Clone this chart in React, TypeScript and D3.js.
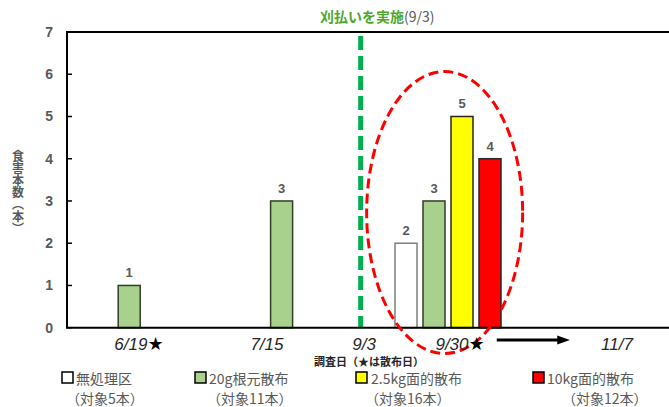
import React from "react";
import * as d3 from "d3";

const categories = ["6/19", "7/15", "9/30", "11/7"];
const seriesNames = ["無処理区", "20g根元散布", "2.5kg面的散布", "10kg面的散布"];
const seriesTargets = ["（対象5本）", "（対象11本）", "（対象16本）", "（対象12本）"];
const untreated: (number | null)[] = [null, null, 2, null];
const root20g: (number | null)[] = [1, 3, 3, null];
const area25kg: (number | null)[] = [null, null, 5, null];
const area10kg: (number | null)[] = [null, null, 4, null];
const seriesValues = [untreated, root20g, area25kg, area10kg];
const yTicks = [0, 1, 2, 3, 4, 5, 6, 7];
// x-axis labels placed along the category axis (in category units)
const xLabels = [
  { text: "6/19", star: true, at: 0.472 },
  { text: "7/15", star: false, at: 1.312 },
  { text: "9/3", star: false, at: 1.949 },
  { text: "9/30", star: true, at: 2.579 },
  { text: "11/7", star: false, at: 3.609 },
];
const mowingAt = 1.927;

const W = 669;
const H = 407;
const left = 67;
const top = 32;
const bottom = 327.7;
const right = 676.6;

const fills = ["#ffffff", "#a9d18e", "#ffff00", "#ff0000"];
const strokes = ["#7f7f7f", "#2f3f26", "#262626", "#262626"];
const gray = "#595959";
const jp = "'Noto Sans CJK JP', 'Noto Sans', sans-serif";
const lat = "'Liberation Sans', Arial, sans-serif";

export default function App() {
  const x0 = d3.scaleBand<string>().domain(categories).range([left, right]);
  const xu = d3.scaleLinear().domain([0, categories.length]).range([left, right]);
  const clusterW = 112;
  const x1 = d3
    .scaleBand<string>()
    .domain(seriesNames)
    .range([0, clusterW])
    .paddingInner(6 / 28)
    .paddingOuter(3 / 28);
  const y = d3.scaleLinear().domain([0, 7]).range([bottom, top]);

  const bars: React.ReactNode[] = [];
  categories.forEach((c, ci) => {
    const cx = (x0(c) as number) + x0.bandwidth() / 2 - clusterW / 2;
    seriesNames.forEach((s, si) => {
      const v = seriesValues[si][ci];
      if (v == null) return;
      const bx = cx + (x1(s) as number);
      bars.push(
        <g key={c + s}>
          <rect
            x={bx}
            y={y(v)}
            width={x1.bandwidth()}
            height={y(0) - y(v)}
            fill={fills[si]}
            stroke={strokes[si]}
            strokeWidth={1.5}
          />
          <text
            x={bx + x1.bandwidth() / 2}
            y={y(v) - 8}
            textAnchor="middle"
            fontFamily={lat}
            fontWeight="bold"
            fontSize={13}
            fill={gray}
          >
            {v}
          </text>
        </g>
      );
    });
  });

  const ellCx = xu(2.478);
  const legendX = [
    { box: 62, t1: 76, t2: 66 },
    { box: 195, t1: 209, t2: 207 },
    { box: 356, t1: 371, t2: 365 },
    { box: 533, t1: 547, t2: 562 },
  ];

  return (
    <svg
      width={W}
      height={H}
      style={{ position: "absolute", left: 0, top: 0, background: "#fff" }}
    >
      {/* title */}
      <text x={320} y={22} fontSize={14} fontFamily={jp}>
        <tspan fill="#4ea72e" fontWeight="bold">
          刈払いを実施
        </tspan>
        <tspan fill={gray}>(9/3)</tspan>
      </text>

      {/* mowing line */}
      <line
        x1={xu(mowingAt)}
        x2={xu(mowingAt)}
        y1={36}
        y2={bottom}
        stroke="#00b050"
        strokeWidth={5}
        strokeDasharray="14 6"
      />

      {bars}

      {/* axes */}
      <line x1={left - 1} x2={W} y1={top} y2={top} stroke="#000" strokeWidth={2} />
      <line x1={left} x2={left} y1={top} y2={bottom} stroke="#000" strokeWidth={2} />
      <line x1={left - 1} x2={W} y1={bottom} y2={bottom} stroke="#000" strokeWidth={2} />
      {yTicks.map((t) => (
        <g key={t}>
          <line x1={left} x2={left + 5} y1={y(t)} y2={y(t)} stroke="#000" strokeWidth={1.5} />
          <text
            x={53}
            y={y(t) + 5}
            textAnchor="end"
            fontFamily={lat}
            fontWeight="bold"
            fontSize={14}
            fill={gray}
          >
            {t}
          </text>
        </g>
      ))}

      {/* ellipse */}
      <ellipse
        cx={ellCx}
        cy={212.5}
        rx={78}
        ry={141}
        fill="none"
        stroke="#ff0000"
        strokeWidth={3}
        strokeDasharray="10 5"
      />

      {/* x labels */}
      {xLabels.map((l) => (
        <text
          key={l.text}
          x={xu(l.at)}
          y={350}
          textAnchor="middle"
          fontFamily={lat}
          fontSize={17}
          fill="#262626"
        >
          <tspan fontStyle="italic">{l.text}</tspan>
          {l.star && (
            <tspan fontFamily="'DejaVu Sans', sans-serif" fontSize={18} fill="#000">
              ★
            </tspan>
          )}
        </text>
      ))}

      {/* arrow */}
      <line x1={xu(2.82)} x2={xu(3.23)} y1={340} y2={340} stroke="#000" strokeWidth={3} />
      <path
        d={`M${xu(3.3)},340 L${xu(3.23) - 2},335.5 L${xu(3.23) - 2},344.5 Z`}
        fill="#000"
      />

      {/* x-axis title */}
      <text x={369} y={366} textAnchor="middle" fontFamily={jp} fontWeight="bold" fontSize={11} fill="#262626">
        調査日（★は散布日）
      </text>

      {/* y-axis title */}
      <text
        x={18}
        y={150}
        fontFamily={jp}
        fontWeight="bold"
        fontSize={12}
        fill={gray}
        style={{ writingMode: "vertical-rl" as any }}
      >
        食害本数（本）
      </text>

      {/* legend */}
      {seriesNames.map((s, i) => (
        <g key={s}>
          <rect
            x={legendX[i].box}
            y={372}
            width={11}
            height={11}
            fill={fills[i]}
            stroke="#000"
            strokeWidth={1.5}
          />
          <text x={legendX[i].t1} y={383.5} fontFamily={jp} fontSize={14} fill={gray}>
            {s}
          </text>
          <text x={legendX[i].t2} y={404} fontFamily={jp} fontSize={14} fill={gray}>
            {seriesTargets[i]}
          </text>
        </g>
      ))}
    </svg>
  );
}
